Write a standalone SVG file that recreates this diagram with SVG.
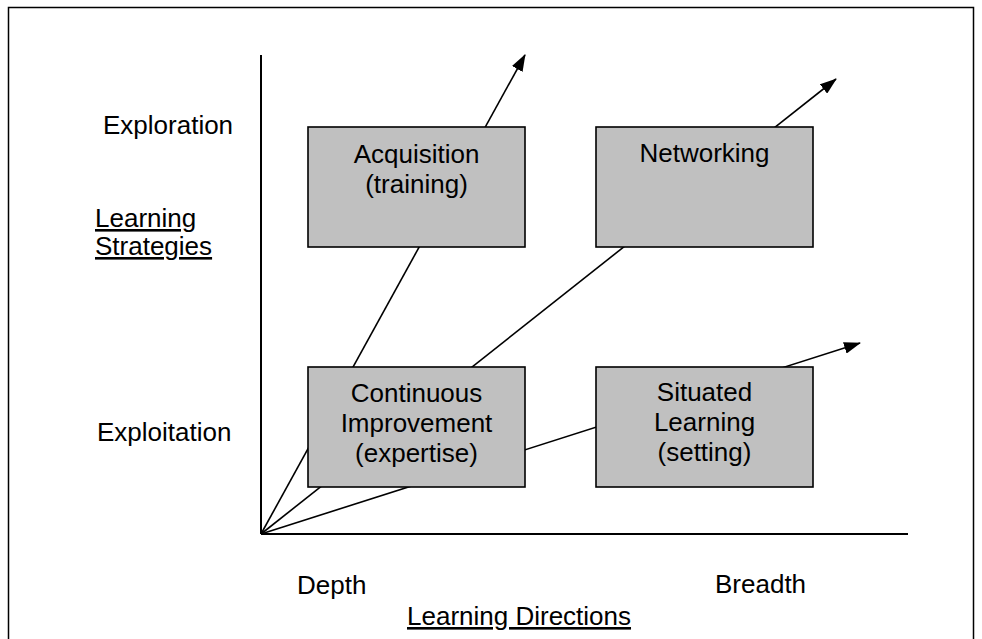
<svg xmlns="http://www.w3.org/2000/svg" width="982" height="639" viewBox="0 0 982 639">
<style>
text{font-family:"Liberation Sans",Arial,sans-serif;font-size:26px;fill:#000}
.c{text-anchor:middle}
.u{text-decoration:underline}
.box{fill:#C0C0C0;stroke:#000;stroke-width:1.6}
.ln{stroke:#000;stroke-width:1.6;fill:none}
.ax{stroke:#000;stroke-width:2;fill:none}
</style>
<defs>
<marker id="ah" markerUnits="userSpaceOnUse" viewBox="0 0 17 12" refX="16" refY="6" markerWidth="17" markerHeight="12" orient="auto">
<path d="M0,0 L17,6 L0,12 z" fill="#000"/>
</marker>
</defs>
<rect x="8.5" y="7.5" width="965" height="650" fill="#fff" stroke="#000" stroke-width="1.5"/>
<g id="axes">
<line class="ax" x1="261" y1="55" x2="261" y2="534"/>
<line class="ax" x1="261" y1="534" x2="908" y2="534"/>
</g>
<g id="connectors">
<line class="ln" x1="261" y1="534" x2="525" y2="55" marker-end="url(#ah)"/>
<line class="ln" x1="261" y1="534" x2="836" y2="79" marker-end="url(#ah)"/>
<line class="ln" x1="261" y1="534" x2="860" y2="343" marker-end="url(#ah)"/>
</g>
<g id="acquisition">
<rect class="box" x="308" y="127" width="217" height="120"/>
<text class="c" x="416.5" y="163">Acquisition</text>
<text class="c" x="416.5" y="193">(training)</text>
</g>
<g id="networking">
<rect class="box" x="596" y="127" width="217" height="120"/>
<text class="c" x="704.5" y="162">Networking</text>
</g>
<g id="continuous">
<rect class="box" x="308" y="367" width="217" height="120"/>
<text class="c" x="416.5" y="402">Continuous</text>
<text class="c" x="416.5" y="432">Improvement</text>
<text class="c" x="416.5" y="462">(expertise)</text>
</g>
<g id="situated">
<rect class="box" x="596" y="367" width="217" height="120"/>
<text class="c" x="704.5" y="401">Situated</text>
<text class="c" x="704.5" y="431">Learning</text>
<text class="c" x="704.5" y="461">(setting)</text>
</g>
<g id="labels">
<text x="103" y="134">Exploration</text>
<text class="u" x="95" y="227">Learning</text>
<text class="u" x="95" y="255">Strategies</text>
<text x="97" y="441">Exploitation</text>
<text x="297" y="594">Depth</text>
<text x="715" y="593">Breadth</text>
<text class="u" x="407" y="625">Learning Directions</text>
</g>
</svg>
